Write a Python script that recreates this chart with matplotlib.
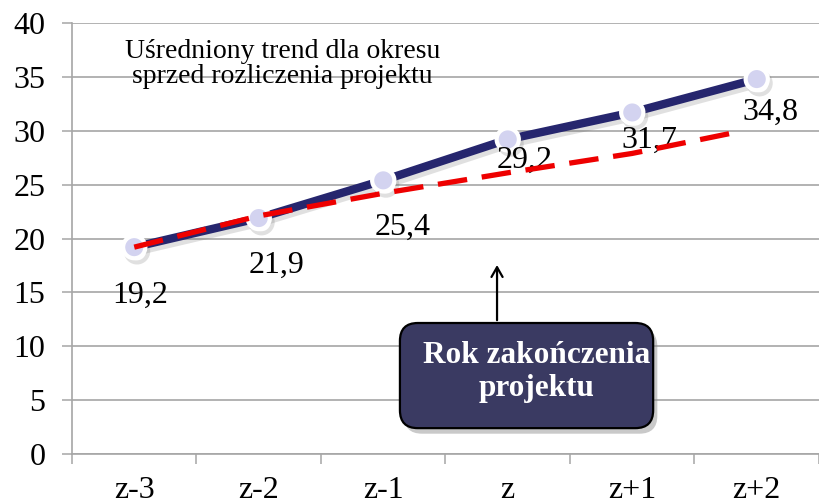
import matplotlib
matplotlib.use("Agg")
import matplotlib.pyplot as plt
import matplotlib.patheffects as pe
from matplotlib.patches import FancyBboxPatch

# data
years = ["z-3", "z-2", "z-1", "z", "z+1", "z+2"]
values = [19.2, 21.9, 25.4, 29.2, 31.7, 34.8]
value_labels = ["19,2", "21,9", "25,4", "29,2", "31,7", "34,8"]
trend_x = [0, 1, 2, 3, 4, 4.85]
trend_y = [19.2, 22.1, 24.2, 26.1, 27.9, 29.9]

# where each value label sits relative to its point (points)
label_offsets = [(4, -35), (13, -34), (14, -34), (12, -15), (12, -20), (10, -24)]

plt.rcParams["font.family"] = ["Liberation Serif", "DejaVu Serif"]

fig = plt.figure(figsize=(8.19, 5.01), dpi=100)
ax = fig.add_axes([0.0879, 0.0938, 0.9121, 0.8602])

navy = "#26266e"
grid_c = "#a6a6a6"

x = list(range(len(years)))
ax.plot(x, values, color=navy, lw=6, marker="o", ms=16,
        mfc="#d3d3f0", mec="white", mew=3, zorder=3,
        path_effects=[pe.SimpleLineShadow(offset=(2, -3), shadow_color="#666666", alpha=0.2),
                      pe.Normal()])

line, = ax.plot(trend_x, trend_y, color="#ee0000", lw=3.8, zorder=5)
line.set_dashes((5.6, 2.8))

for xi, v, lab, off in zip(x, values, value_labels, label_offsets):
    ax.annotate(lab, (xi, v), xytext=off, textcoords="offset points",
                ha="center", va="center", fontsize=23, zorder=4)

# axes look
ax.set_xlim(-0.5, 5.5)
ax.set_ylim(0, 40)
ax.set_yticks(range(0, 41, 5))
ax.set_xticks(x)
ax.set_xticklabels(years)
ax.set_xticks([i - 0.5 for i in range(len(years) + 1)], minor=True)
ax.tick_params(axis="x", which="major", length=0, pad=16, labelsize=23)
ax.tick_params(axis="x", which="minor", length=7, width=1.1, color=grid_c, direction="out")
ax.tick_params(axis="y", length=7, width=1.1, color=grid_c, pad=12, labelsize=23)
ax.yaxis.grid(True, color=grid_c, lw=1.2)
ax.set_axisbelow(True)
for s in ["top", "right"]:
    ax.spines[s].set_visible(False)
for s in ["left", "bottom"]:
    ax.spines[s].set_color(grid_c)
    ax.spines[s].set_linewidth(1.2)

# note about the trend line
ax.text(0.282, 0.905, "Uśredniony trend dla okresu\nsprzed rozliczenia projektu",
        transform=ax.transAxes, ha="center", va="center", fontsize=20,
        linespacing=1.05, zorder=6)

# box marking the project end year
box = FancyBboxPatch((0.439, 0.060), 0.339, 0.244, transform=ax.transAxes,
                     boxstyle="round,pad=0,rounding_size=0.024", mutation_aspect=747 / 431,
                     fc="#3a3a62", ec="black", lw=1.6, zorder=7,
                     path_effects=[pe.SimplePatchShadow(offset=(3, -4), shadow_rgbFace="#888888", alpha=0.45),
                                   pe.Normal()])
ax.add_patch(box)
ax.text(0.622, 0.190, "Rok zakończenia\nprojektu", transform=ax.transAxes,
        ha="center", va="center", fontsize=22.5, fontweight="bold", color="white",
        linespacing=1.15, zorder=8)
ax.annotate("", xy=(0.569, 0.445), xytext=(0.569, 0.304), xycoords="axes fraction",
            arrowprops=dict(arrowstyle="->,head_length=0.7,head_width=0.4", color="black", lw=1.6),
            zorder=7)

fig.savefig("out.png", dpi=100)
